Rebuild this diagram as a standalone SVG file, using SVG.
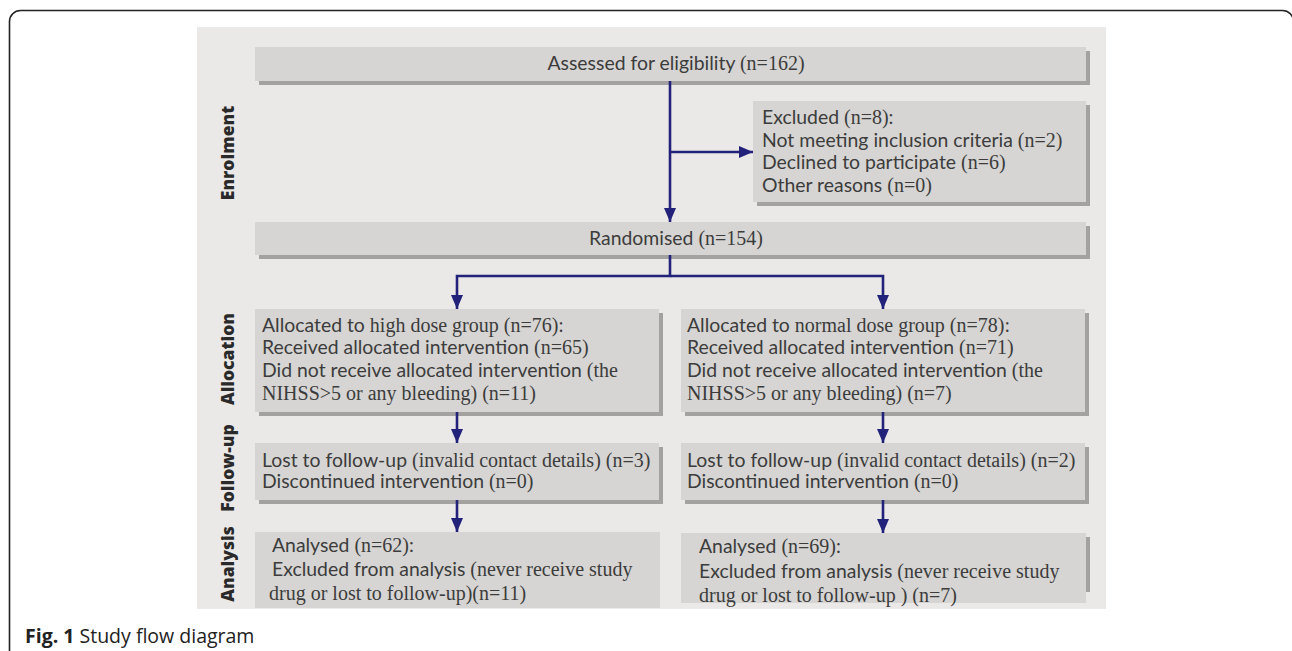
<svg xmlns="http://www.w3.org/2000/svg" width="1292" height="651" viewBox="0 0 1292 651">
<style>
.box{fill:#d6d5d3}
.sh{fill:#a3a2a0}
.t{font-family:Lato,"Liberation Sans",sans-serif;font-size:19.4px;fill:#3c3c3c}
.s{font-family:"Liberation Serif",serif;font-size:20px}
.lab{font-family:"Open Sans","Liberation Sans",sans-serif;font-weight:800;font-size:17.5px;fill:#2a2a2a}
.c{fill:none;stroke:#22227a;stroke-width:2.6}
</style>
<defs>
<marker id="ah" markerUnits="userSpaceOnUse" markerWidth="14" markerHeight="14" viewBox="0 0 14 12" refX="14" refY="6" orient="auto">
<path d="M0,0 L14,6 L0,12 Z" fill="#22227a"/>
</marker>
</defs>
<rect x="0" y="0" width="1292" height="651" fill="#ffffff"/>
<rect x="9.5" y="10.5" width="1284" height="700" rx="11" fill="none" stroke="#222" stroke-width="1.6"/>
<rect x="197" y="27" width="909" height="582" fill="#ebe9e7"/>

<g id="lbl-enrol"><text class="lab" transform="translate(234,153) rotate(-90)" text-anchor="middle">Enrolment</text></g>
<g id="lbl-alloc"><text class="lab" transform="translate(234,359) rotate(-90)" text-anchor="middle">Allocation</text></g>
<g id="lbl-follow"><text class="lab" transform="translate(234,468) rotate(-90)" text-anchor="middle">Follow-up</text></g>
<g id="lbl-anal"><text class="lab" transform="translate(234,564) rotate(-90)" text-anchor="middle">Analysis</text></g>

<g id="assessed">
<rect class="sh" x="259" y="51" width="831" height="34"/>
<rect class="box" x="255" y="47" width="831" height="34"/>
<text class="t" x="676" y="70" text-anchor="middle">Assessed for eligibility <tspan class="s">(n=162)</tspan></text>
</g>

<g id="excluded">
<rect class="sh" x="757" y="105" width="333" height="101"/>
<rect class="box" x="753" y="101" width="333" height="101"/>
<text class="t" x="762" y="124">Excluded <tspan class="s">(n=8)</tspan>:</text>
<text class="t" x="762" y="147">Not meeting inclusion criteria <tspan class="s">(n=2)</tspan></text>
<text class="t" x="762" y="169">Declined to participate <tspan class="s">(n=6)</tspan></text>
<text class="t" x="762" y="192">Other reasons <tspan class="s">(n=0)</tspan></text>
</g>

<g id="randomised">
<rect class="sh" x="259" y="226" width="831" height="33"/>
<rect class="box" x="255" y="222" width="831" height="33"/>
<text class="t" x="676" y="245" text-anchor="middle">Randomised <tspan class="s">(n=154)</tspan></text>
</g>

<g id="alloc-high">
<rect class="sh" x="259" y="313" width="404" height="103"/>
<rect class="box" x="255" y="309" width="404" height="103"/>
<text class="t" x="262" y="332">Allocated to <tspan class="s">high dose group (n=76):</tspan></text>
<text class="t" x="262" y="354">Received allocated intervention <tspan class="s">(n=65)</tspan></text>
<text class="t" x="262" y="377">Did not receive allocated intervention <tspan class="s">(the</tspan></text>
<text class="t s" x="262" y="400">NIHSS&gt;5 or any bleeding) (n=11)</text>
</g>

<g id="alloc-normal">
<rect class="sh" x="685" y="313" width="404" height="103"/>
<rect class="box" x="681" y="309" width="404" height="103"/>
<text class="t" x="687" y="332">Allocated to <tspan class="s">normal dose group (n=78):</tspan></text>
<text class="t" x="687" y="354">Received allocated intervention <tspan class="s">(n=71)</tspan></text>
<text class="t" x="687" y="377">Did not receive allocated intervention <tspan class="s">(the</tspan></text>
<text class="t s" x="687" y="400">NIHSS&gt;5 or any bleeding) (n=7)</text>
</g>

<g id="follow-high">
<rect class="sh" x="259" y="447" width="404" height="57"/>
<rect class="box" x="255" y="443" width="404" height="57"/>
<text class="t" x="262" y="467">Lost to follow-up <tspan class="s">(invalid contact details) (n=3)</tspan></text>
<text class="t" x="262" y="488">Discontinued intervention <tspan class="s">(n=0)</tspan></text>
</g>

<g id="follow-normal">
<rect class="sh" x="685" y="447" width="404" height="57"/>
<rect class="box" x="681" y="443" width="404" height="57"/>
<text class="t" x="687" y="467">Lost to follow-up <tspan class="s">(invalid contact details) (n=2)</tspan></text>
<text class="t" x="687" y="488">Discontinued intervention <tspan class="s">(n=0)</tspan></text>
</g>

<g id="anal-high">
<rect class="box" x="255" y="532" width="405" height="76"/>
<text class="t" x="272" y="552">Analysed <tspan class="s">(n=62)</tspan>:</text>
<text class="t" x="272" y="576">Excluded from analysis <tspan class="s">(never receive study</tspan></text>
<text class="t s" x="269" y="600">drug or lost to follow-up)(n=11)</text>
</g>

<g id="anal-normal">
<rect class="sh" x="685" y="537" width="405" height="55"/>
<rect class="box" x="681" y="533" width="405" height="70"/>
<text class="t" x="699" y="553">Analysed <tspan class="s">(n=69)</tspan>:</text>
<text class="t" x="699" y="578">Excluded from analysis <tspan class="s">(never receive study</tspan></text>
<text class="t s" x="699" y="602">drug or lost to follow-up ) (n=7)</text>
</g>

<g id="connectors">
<path class="c" d="M670,81 V222" marker-end="url(#ah)"/>
<path class="c" d="M670,152 H753" marker-end="url(#ah)"/>
<path class="c" d="M670,255 V276 H457 V309" marker-end="url(#ah)"/>
<path class="c" d="M670,276 H883 V309" marker-end="url(#ah)"/>
<path class="c" d="M457,412 V443" marker-end="url(#ah)"/>
<path class="c" d="M883,412 V443" marker-end="url(#ah)"/>
<path class="c" d="M457,500 V532" marker-end="url(#ah)"/>
<path class="c" d="M883,500 V533" marker-end="url(#ah)"/>
</g>

<g id="caption">
<text x="25" y="643" font-family="'Open Sans','Liberation Sans',sans-serif" font-size="19.5px" fill="#222"><tspan font-weight="bold">Fig. 1</tspan> Study flow diagram</text>
</g>
</svg>
